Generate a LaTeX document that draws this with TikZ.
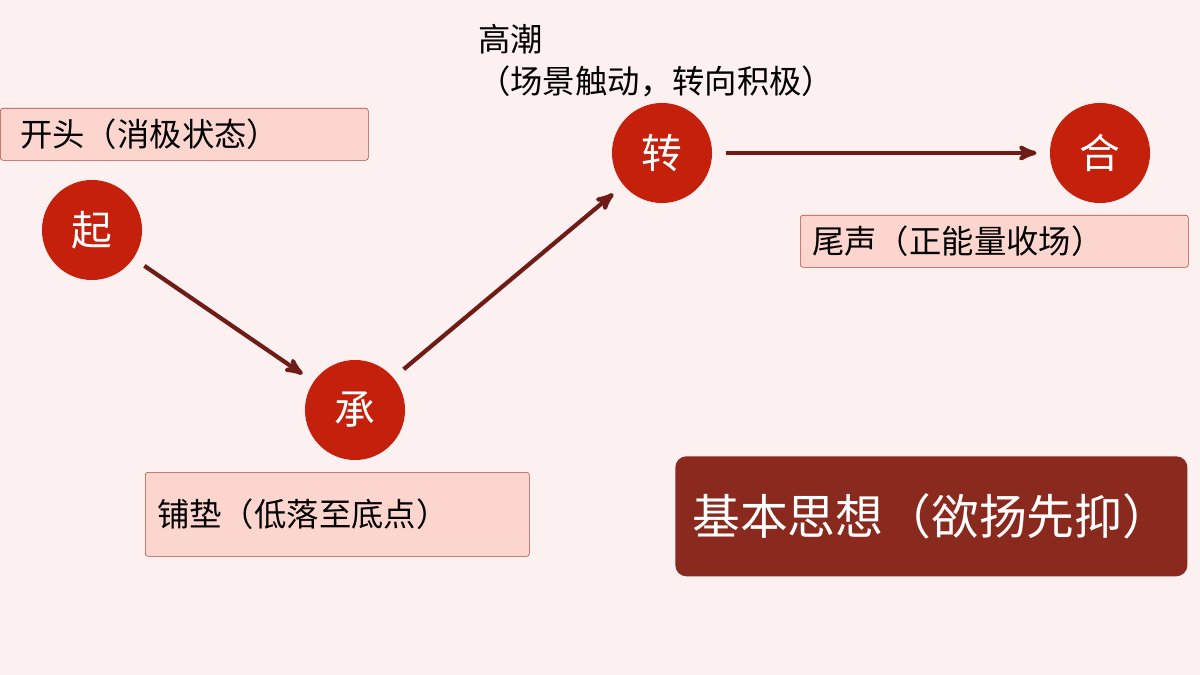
\documentclass[tikz,border=0pt]{standalone}
\usepackage{fontspec}
\setmainfont{Noto Sans CJK SC}
\usetikzlibrary{positioning}
\usetikzlibrary{calc}
\usetikzlibrary{arrows}
\definecolor{bgpink}{HTML}{FDF0F0}
\definecolor{boxpink}{HTML}{FDD5CF}
\definecolor{boxline}{HTML}{B0463A}
\definecolor{dotred}{HTML}{C4200C}
\definecolor{arrowred}{HTML}{6E1C16}
\definecolor{mainred}{HTML}{8A2A1F}
\begin{document}
\begin{tikzpicture} [
    x=0.025cm, y=-0.025cm,          % pixel grid, top-down
    ]
% -------------------------------------------------
\tikzset{
  stage/.style={circle, fill=dotred, text=white, minimum size=2.5cm, inner sep=0pt, font=\fontsize{29}{33}\selectfont},
  note/.style={draw=boxline, fill=boxpink, rounded corners=2pt, anchor=north west, inner sep=0pt, font=\fontsize{23}{27}\selectfont},
  line/.style={draw=arrowred, line width=3pt, -stealth', shorten <=0.33cm, shorten >=0.33cm},
}

    \fill[bgpink] (0,0) rectangle (1200,675);                          % background

    \node [stage] (qi)    at (92,230)   {起};
    \node [stage] (cheng) at (355,410)  {承};
    \node [stage] (zhuan) at (662,153)  {转};
    \node [stage] (he)    at (1100,153) {合};

    \node [note, minimum width=9.2cm, minimum height=1.3cm, text width=9.2cm, align=left] (kaitou) at (0,108)   {\hspace*{0.5cm}开头（消极状态）};
    \node [note, minimum width=9.6cm, minimum height=2.1cm, text width=9.6cm, align=left] (pudian) at (145,472) {\hspace*{0.3cm}铺垫（低落至底点）};
    \node [note, minimum width=9.7cm, minimum height=1.3cm, text width=9.7cm, align=left] (weisheng) at (800,215) {\hspace*{0.3cm}尾声（正能量收场）};

    \node [anchor=north west, inner sep=0pt, align=left, font=\fontsize{23}{30}\selectfont] (gaochao) at (478,24) {高潮\\（场景触动，转向积极）};

    \node [fill=mainred, text=white, rounded corners=8pt, minimum width=12.8cm, minimum height=3cm,
           anchor=north west, font=\fontsize{34}{40}\selectfont] (sixiang) at (675,456) {基本思想（欲扬先抑）};

    \path [line] (qi) -- (cheng);
    \path [line] (cheng) -- (zhuan);
    \path [line] (zhuan) -- (he);

\end{tikzpicture}
\end{document}
